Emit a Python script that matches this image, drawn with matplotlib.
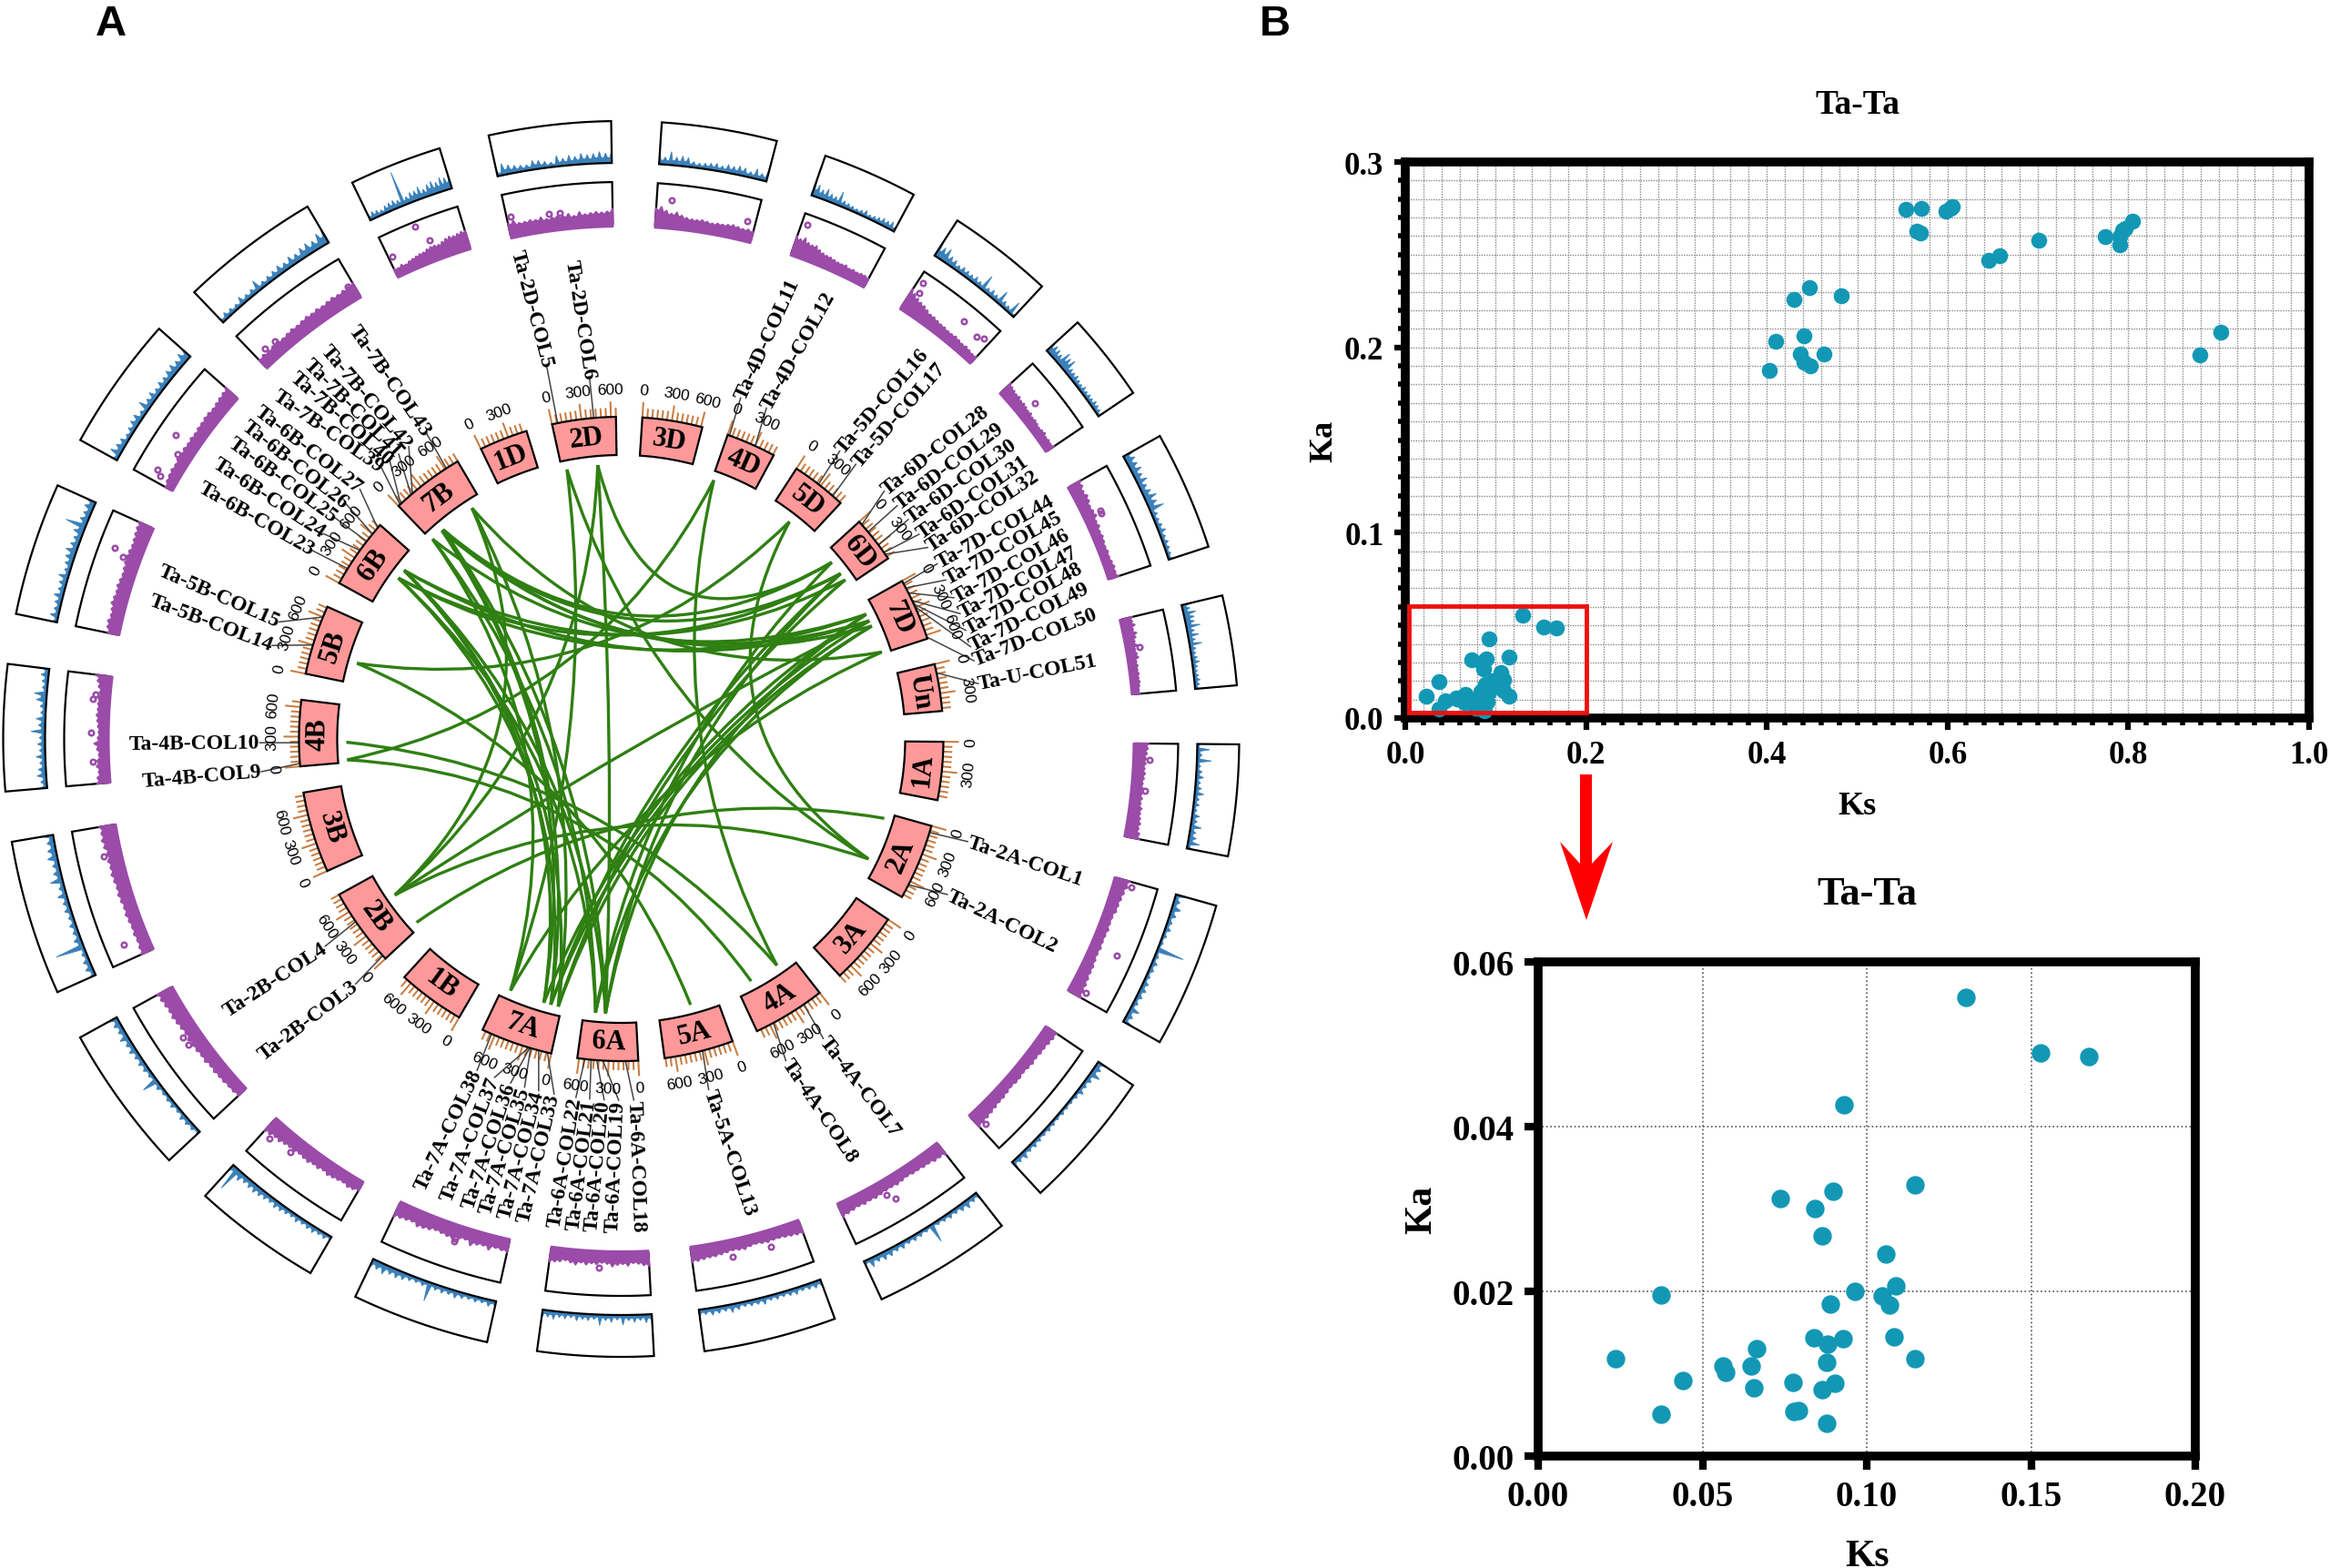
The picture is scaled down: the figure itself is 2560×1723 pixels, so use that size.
import numpy as np
import matplotlib
matplotlib.use('Agg')
import matplotlib.pyplot as plt
from matplotlib.path import Path
from matplotlib.patches import PathPatch, Polygon, Rectangle
from matplotlib.ticker import FormatStrFormatter

# chromosomes and their lengths (Mb), clockwise from 1A
chroms = ['1A', '2A', '3A', '4A', '5A', '6A', '7A', '1B', '2B', '3B', '4B',
          '5B', '6B', '7B', '1D', '2D', '3D', '4D', '5D', '6D', '7D', 'Un']
chrom_len = [594, 780, 750, 744, 709, 618, 736, 689, 801, 830, 674,
             713, 720, 750, 495, 651, 615, 509, 566, 473, 638, 480]

# inner track, % of box height along each chromosome
purple = {
    '1A': [30, 28, 26, 24, 24, 22, 24, 22, 20, 22, 20, 22, 20, 24, 22, 24, 26, 24, 28, 30],
    '2A': [32, 30, 26, 24, 22, 22, 18, 18, 20, 18, 18, 20, 18, 20, 22, 22, 24, 26, 28, 30],
    '3A': [26, 26, 24, 22, 22, 20, 22, 20, 18, 20, 20, 18, 20, 22, 22, 24, 26, 28, 30, 32],
    '4A': [30, 26, 26, 22, 22, 20, 20, 18, 20, 22, 20, 20, 22, 24, 22, 24, 22, 24, 26, 30],
    '5A': [28, 26, 24, 22, 20, 20, 22, 20, 18, 20, 24, 22, 20, 22, 24, 26, 26, 28, 30, 32],
    '6A': [30, 28, 24, 22, 28, 24, 26, 30, 24, 22, 26, 24, 28, 24, 30, 26, 22, 26, 28, 30],
    '7A': [26, 24, 22, 30, 24, 26, 32, 22, 24, 30, 28, 26, 24, 28, 30, 32, 26, 28, 30, 34],
    '1B': [18, 22, 24, 20, 22, 24, 26, 22, 26, 24, 28, 26, 24, 28, 26, 28, 32, 30, 34, 36],
    '2B': [20, 22, 22, 24, 24, 26, 24, 28, 26, 28, 28, 30, 26, 28, 30, 32, 30, 32, 34, 36],
    '3B': [26, 24, 22, 24, 22, 24, 26, 24, 26, 28, 26, 28, 30, 28, 30, 28, 32, 34, 32, 34],
    '4B': [26, 24, 20, 24, 22, 18, 22, 28, 20, 18, 20, 22, 24, 22, 22, 22, 20, 24, 28, 34],
    '5B': [22, 26, 28, 24, 26, 30, 28, 26, 28, 26, 24, 26, 28, 30, 28, 26, 28, 30, 32, 34],
    '6B': [14, 18, 20, 22, 20, 24, 22, 24, 22, 24, 22, 24, 24, 26, 26, 24, 26, 28, 30, 34],
    '7B': [22, 24, 22, 24, 26, 22, 24, 26, 24, 26, 28, 26, 28, 26, 28, 30, 28, 30, 32, 34],
    '1D': [16, 14, 18, 14, 18, 20, 22, 24, 24, 28, 30, 30, 28, 32, 36, 38, 36, 38, 40, 40],
    '2D': [30, 34, 26, 26, 28, 26, 30, 24, 26, 28, 26, 30, 24, 32, 26, 28, 30, 28, 30, 36],
    '3D': [40, 44, 36, 30, 34, 28, 24, 22, 22, 24, 22, 20, 22, 22, 24, 26, 24, 22, 24, 22],
    '4D': [42, 38, 44, 36, 34, 36, 30, 26, 24, 24, 22, 20, 20, 22, 18, 20, 18, 20, 20, 18],
    '5D': [50, 44, 38, 34, 32, 28, 24, 24, 22, 20, 20, 18, 18, 20, 18, 16, 18, 16, 14, 16],
    '6D': [30, 26, 24, 22, 24, 20, 22, 20, 18, 20, 16, 18, 16, 14, 16, 18, 14, 16, 14, 18],
    '7D': [28, 26, 22, 26, 24, 20, 22, 24, 18, 20, 16, 18, 16, 14, 16, 14, 16, 18, 16, 20],
    'Un': [24, 22, 26, 20, 26, 22, 18, 22, 16, 18, 20, 14, 16, 14, 16, 14, 16, 14, 12, 14],
}

# outer track, % of box height
blue = {
    '1A': [8, 30, 12, 35, 10, 14, 18, 12, 15, 22, 12, 14, 10, 18, 14, 26, 15, 18, 28, 12],
    '2A': [28, 15, 22, 16, 12, 14, 10, 8, 66, 10, 14, 12, 10, 14, 16, 14, 12, 24, 16, 26],
    '3A': [24, 18, 26, 14, 12, 16, 10, 8, 8, 10, 8, 10, 12, 10, 12, 14, 12, 18, 14, 22],
    '4A': [18, 14, 20, 16, 12, 14, 12, 10, 46, 10, 12, 14, 12, 16, 14, 18, 20, 16, 22, 12],
    '5A': [18, 16, 14, 12, 16, 14, 12, 14, 12, 18, 14, 14, 12, 16, 20, 14, 16, 18, 14, 22],
    '6A': [16, 20, 14, 18, 14, 24, 12, 18, 14, 26, 12, 16, 14, 18, 12, 16, 14, 20, 16, 22],
    '7A': [14, 16, 12, 14, 12, 14, 18, 14, 16, 14, 46, 14, 12, 14, 18, 20, 18, 24, 20, 26],
    '1B': [10, 14, 12, 16, 14, 12, 16, 12, 14, 16, 18, 14, 16, 18, 20, 18, 16, 22, 60, 20],
    '2B': [10, 12, 14, 16, 10, 14, 12, 10, 14, 40, 12, 14, 16, 14, 18, 16, 22, 16, 18, 26],
    '3B': [14, 18, 16, 12, 70, 18, 14, 16, 12, 16, 14, 22, 14, 30, 18, 16, 24, 20, 18, 30],
    '4B': [20, 14, 22, 18, 14, 22, 14, 18, 14, 34, 16, 22, 12, 14, 24, 30, 12, 14, 18, 16],
    '5B': [12, 20, 14, 16, 22, 16, 18, 24, 14, 18, 22, 26, 20, 18, 24, 50, 20, 18, 22, 24],
    '6B': [14, 26, 20, 18, 12, 16, 20, 22, 14, 28, 18, 22, 16, 20, 18, 22, 24, 20, 26, 30],
    '7B': [12, 16, 14, 12, 20, 14, 16, 28, 14, 16, 18, 22, 18, 24, 20, 26, 28, 24, 34, 42],
    '1D': [14, 18, 16, 12, 18, 20, 22, 18, 85, 18, 24, 24, 30, 20, 28, 32, 26, 34, 30, 36],
    '2D': [12, 28, 22, 18, 16, 14, 22, 20, 16, 12, 26, 18, 24, 20, 26, 22, 24, 28, 24, 32],
    '3D': [24, 18, 32, 20, 24, 22, 14, 12, 14, 16, 18, 14, 20, 18, 22, 20, 14, 24, 16, 30],
    '4D': [50, 30, 22, 28, 20, 18, 34, 16, 14, 12, 10, 12, 16, 10, 12, 14, 18, 16, 20, 14],
    '5D': [50, 30, 34, 22, 20, 14, 18, 16, 14, 18, 14, 40, 14, 18, 14, 34, 16, 12, 34, 8],
    '6D': [34, 26, 24, 20, 36, 30, 34, 18, 16, 18, 14, 12, 16, 12, 14, 12, 16, 14, 12, 8],
    '7D': [32, 24, 22, 26, 20, 26, 18, 22, 30, 24, 36, 14, 12, 14, 18, 12, 14, 12, 10, 12],
    'Un': [26, 18, 30, 24, 22, 34, 18, 26, 16, 30, 14, 12, 14, 18, 12, 10, 12, 14, 12, 10],
}

# purple outlier circles: chromosome, fraction along it, % of box height
dot_chr = ['1A', '1A', '2A', '2A', '2A', '3A', '4A', '4A', '5A', '5A', '7A', '7A', '6A',
           '1B', '1B', '2B', '2B', '3B', '3B', '4B', '4B', '4B', '4B', '5B', '5B',
           '6B', '6B', '6B', '6B', '7B', '7B', '7B', '1D', '1D', '1D', '1D',
           '2D', '2D', '2D', '3D', '3D', '4D', '5D', '5D', '5D', '5D', '5D',
           '6D', '7D', '7D', 'Un']
dot_pos = [.17, .49, .04, .58, .95, .95, .55, .60, .65, .30, .45, .45, .50,
           .92, .70, .62, .55, .12, .78, .78, .82, .47, .20, .72, .67,
           .06, .10, .42, .30, .10, .20, .95, .05, .45, .55, .85,
           .04, .40, .50, .15, .92, .07, .05, .08, .65, .85, .92,
           .40, .35, .37, .40]
dot_val = [32, 27, 38, 62, 34, 36, 48, 30, 34, 34, 33, 28, 34,
           42, 34, 36, 34, 55, 38, 36, 30, 36, 33, 62, 38,
           36, 50, 58, 30, 32, 30, 32, 45, 88, 45, 20,
           45, 35, 35, 62, 42, 75, 75, 50, 60, 52, 60,
           42, 38, 36, 28]

# gene labels: name, chromosome, position (Mb), leader angle in / out
gene_names = ['COL%d' % i for i in range(1, 52)]
gene_chr = ['2A', '2A', '2B', '2B', '2D', '2D', '4A', '4A', '4B', '4B', '4D', '4D',
            '5A', '5B', '5B', '5D', '5D', '6A', '6A', '6A', '6A', '6A',
            '6B', '6B', '6B', '6B', '6B', '6D', '6D', '6D', '6D', '6D',
            '7A', '7A', '7A', '7A', '7A', '7A', '7B', '7B', '7B', '7B', '7B',
            '7D', '7D', '7D', '7D', '7D', '7D', '7D', 'Un']
gene_pos = [70, 640, 40, 480, 57, 426, 199, 557, 30, 239, 20, 300,
            318, 300, 600, 273, 460, 130, 358, 420, 477, 540,
            170, 392, 506, 600, 680, 40, 136, 306, 398, 420,
            40, 131, 216, 225, 235, 636, 20, 30, 170, 188, 615,
            30, 80, 136, 222, 260, 290, 620, 90]
label_in = [16.5, 25.5, 137.3, 145, 258.7, 265, 56, 62.9, 174.8, 179.4, 289.3, 293.7,
            76, 195, 198.9, 307.2, 310.5, 88, 90.4, 92.7, 95, 97.2,
            211.4, 214.6, 217.7, 220.5, 223.7, 316.7, 319.8, 322.6, 325.5, 328,
            100.7, 103.2, 105.5, 107.8, 110.5, 113.5, 228.5, 230.2, 232, 234, 237.5,
            331, 333.9, 337, 339.7, 342.5, 345.2, 347.5, 351.2]
label_out = [17, 25.6, 138.6, 145.4, 257.9, 264.1, 55.2, 61.3, 174.9, 179.4, 290.5, 295,
             75, 196.3, 200, 308, 310.6, 88, 90.9, 93.3, 95.5, 97.7,
             211, 214.3, 217.4, 220, 222.3, 317.8, 320.5, 323, 325.4, 327.6,
             101.3, 103.6, 105.9, 108, 110.7, 114, 225.3, 228.2, 230.4, 233, 237,
             331, 333.2, 335.5, 337.8, 339.9, 342.4, 345.5, 350.6]
label_extra = {'COL5': 20}

# collinear pairs drawn as ribbons
link_a_chr = ['2A', '2A', '2A', '2B', '2D', '2D', '2D', '2B', '2A', '2B',
              '4B', '4B', '4B', '4A', '5A', '5B',
              '6A', '6A', '6A', '6A', '6B', '6B', '6A', '6A',
              '7A', '7A', '7A', '7A', '7A', '7A', '7A', '7A', '7B', '7B', '7B', '7B',
              '7A', '7A', '7A', '7A', '7A', '7D', '7D', '7B', '7B', '6B', '6B']
link_a_pos = [65, 582, 582, 477, 57, 426, 426, 477, 582, 477,
              239, 30, 30, 199, 318, 245,
              477, 358, 477, 358, 392, 506, 477, 358,
              636, 216, 131, 40, 636, 216, 131, 40, 20, 170, 188, 615,
              216, 131, 40, 40, 131, 136, 290, 170, 188, 506, 392]
link_b_chr = ['2B', '2B', '2D', '2D', '7A', '6A', '6D', '7D', '5D', '7B',
              '4A', '4A', '4D', '4D', '5B', '5D',
              '6B', '6B', '6D', '6D', '6D', '6D', '7B', '7B',
              '7B', '7B', '7B', '7B', '7D', '7D', '7D', '7D', '7D', '7D', '7D', '7D',
              '6B', '6B', '6B', '6D', '6D', '6A', '6A', '6D', '6D', '7D', '7D']
link_b_pos = [63, 477, 57, 426, 636, 358, 136, 222, 273, 615,
              199, 557, 23, 23, 245, 273,
              392, 506, 136, 306, 306, 398, 20, 188,
              20, 170, 188, 615, 620, 136, 222, 290, 136, 222, 290, 620,
              506, 392, 506, 398, 306, 358, 477, 306, 136, 222, 136]

# Ks / Ka values
ks_high = [.403, .4097, .4297, .4469, .4828, .4414, .4372, .4407, .4483, .4628,
           .5538, .5710, .5655, .5697, .5986, .6028, .6055, .6455, .6572, .7007,
           .7745, .7910, .7903, .7938, .7966, .8048, .8793, .9028]
ka_high = [.1876, .2032, .2257, .2323, .2279, .2060, .1966, .1920, .1898, .1966,
           .2744, .2750, .2628, .2617, .2737, .2752, .2759, .2468, .2494, .2579,
           .2599, .2551, .2595, .2634, .2643, .2680, .1960, .2080]
ks_low = [.0235, .0375, .0375, .0440, .0561, .0572, .0649, .0657, .0666, .0736, .0776,
          .0779, .0793, .0838, .0843, .0865, .0865, .0879, .0879, .0881, .0890, .0897,
          .0903, .0929, .0930, .0964, .1046, .1059, .1070, .1084, .1088, .1148, .1148,
          .1301, .1530, .1676]
ka_low = [.0118, .0196, .0051, .0092, .0109, .0102, .0109, .0083, .0130, .0313, .0090,
          .0054, .0055, .0144, .0301, .0267, .0081, .0114, .0040, .0136, .0184, .0321,
          .0088, .0143, .0427, .0200, .0194, .0245, .0183, .0145, .0207, .0118, .0329,
          .0557, .0489, .0485]

SERIF = 'Liberation Serif'
SANS = 'Liberation Sans'
PURPLE = '#9a4ca8'
BLUE = '#3a80ba'
PINK = '#ff9999'
TICK = '#c97f45'
GREEN = '#2f7f12'
TEAL = '#1298b5'

W, H = 2560, 1724
CX, CY = 682.5, 813
DEG_PER_MB = 0.0176
GAP = 4.7

# sector start angles, clockwise from east
starts = {}
a = 0.5
for c, n in zip(chroms, chrom_len):
    starts[c] = a
    a += n * DEG_PER_MB + GAP
lengths = dict(zip(chroms, chrom_len))


def pol(r, deg):
    t = np.radians(deg)
    return CX + r * np.cos(t), CY + r * np.sin(t)


def ang(c, pos):
    return starts[c] + pos * DEG_PER_MB


def band(r0, r1, a0, a1):
    t = np.linspace(a0, a1, 30)
    x0, y0 = pol(r0, t)
    x1, y1 = pol(r1, t[::-1])
    return np.column_stack([np.r_[x0, x1], np.r_[y0, y1]])


def teeth(vals, a0, a1, track, base_off, floor_frac, w_frac):
    # comb outline: one narrow peak per value over a lower floor
    vals = np.asarray(vals, dtype=float)
    t = np.linspace(a0, a1, len(vals))
    w = (t[1] - t[0]) * w_frac
    ts, vs = [], []
    for i, v in enumerate(vals):
        left = floor_frac * min(v, vals[max(i - 1, 0)])
        right = floor_frac * min(v, vals[min(i + 1, len(vals) - 1)])
        ts += [t[i] - w, t[i], t[i] + w]
        vs += [left, v, right]
    ts = np.clip(ts, a0, a1)
    r = track[0] + np.array(vs) / 100 * (track[1] - track[0])
    xt, yt = pol(r, ts)
    tb = np.linspace(a1, a0, 20)
    xb, yb = pol(track[0] - base_off, tb)
    return np.column_stack([np.r_[xt, xb], np.r_[yt, yb]])


def text_rot(deg):
    # sector names and tick labels follow the rim
    deg = deg % 360
    return 90 - deg if deg <= 180 else 270 - deg


fig = plt.figure(figsize=(W / 100, H / 100), dpi=100)
ax = fig.add_axes([0, 0, 1, 1])
ax.set_xlim(0, W)
ax.set_ylim(H, 0)
ax.axis('off')

R_IN, R_OUT = 312, 354
R_LINK = 302
TRACK_P = (566, 612)
TRACK_B = (633, 679)
R_LABEL = 397

# tracks and sectors
for c in chroms:
    a0, a1 = ang(c, 0), ang(c, lengths[c])
    mid = (a0 + a1) / 2

    ax.add_patch(Polygon(teeth(purple[c], a0, a1, TRACK_P, 3, 0.85, 0.4), fc=PURPLE, ec=PURPLE,
                         lw=1.5, joinstyle='round', zorder=3))
    ax.add_patch(Polygon(band(TRACK_P[0], TRACK_P[1], a0, a1), fc='none', ec='black', lw=1.6, zorder=2))

    ax.add_patch(Polygon(teeth(blue[c], a0, a1, TRACK_B, 0, 0.55, 0.3), fc=BLUE, ec=BLUE,
                         lw=0.6, zorder=3))
    ax.add_patch(Polygon(band(TRACK_B[0], TRACK_B[1], a0, a1), fc='none', ec='black', lw=1.6, zorder=4))

    ax.add_patch(Polygon(band(R_IN, R_OUT, a0, a1), fc=PINK, ec='black', lw=1.6, zorder=5))
    ax.text(*pol((R_IN + R_OUT) / 2, mid), c, rotation=text_rot(mid), ha='center', va='center',
            family=SERIF, weight='bold', fontsize=22, rotation_mode='anchor', zorder=6)

    for pos in range(0, lengths[c] + 1, 50):
        major = pos % 300 == 0
        th = ang(c, pos)
        x, y = pol(np.array([R_OUT, R_OUT + (17 if major else 10)]), th)
        ax.plot(x, y, color=TICK, lw=1.5, zorder=4, solid_capstyle='butt')
        if major:
            ax.text(*pol(R_OUT + 30, th), str(pos), rotation=text_rot(th), ha='center', va='center',
                    family=SANS, fontsize=12.5, rotation_mode='anchor', zorder=7)

# outlier circles on the purple track
for c, f, v in zip(dot_chr, dot_pos, dot_val):
    x, y = pol(TRACK_P[0] + v / 100 * (TRACK_P[1] - TRACK_P[0]), ang(c, f * lengths[c]))
    ax.plot(x, y, 'o', ms=4, mfc='none', mec=PURPLE, mew=1.8, zorder=3)

# gene labels with leaders
for n, c, p, i, o in zip(gene_names, gene_chr, gene_pos, label_in, label_out):
    name = 'Ta-%s-%s' % ('U' if c == 'Un' else c, n)
    r0 = R_LABEL + label_extra.get(n, 0)
    x0, y0 = pol(R_OUT, ang(c, p))
    x1, y1 = pol(r0, i)
    ax.plot([x0, x1], [y0, y1], color='#444444', lw=1.1, zorder=4)
    x2, y2 = pol(r0 + 120, o)
    dx, dy = x2 - x1, y2 - y1
    if dx >= 0:
        rot, ha = -np.degrees(np.arctan2(dy, dx)), 'left'
    else:
        rot, ha = -np.degrees(np.arctan2(-dy, -dx)), 'right'
    ax.text(x1, y1, name, rotation=rot, ha=ha, va='center', rotation_mode='anchor',
            family=SERIF, weight='bold', fontsize=17, zorder=8)

# ribbons
for ca, pa, cb, pb in zip(link_a_chr, link_a_pos, link_b_chr, link_b_pos):
    ta, tb = ang(ca, pa), ang(cb, pb)
    sep = abs(ta - tb) % 360
    sep = min(sep, 360 - sep)
    k = 0.2 * (180 - sep) / 90
    ua = np.array([np.cos(np.radians(ta)), np.sin(np.radians(ta))])
    ub = np.array([np.cos(np.radians(tb)), np.sin(np.radians(tb))])
    u = (ua + ub) / max(np.linalg.norm(ua + ub), 1e-6)
    ctrl = (CX + k * R_LINK * u[0], CY + k * R_LINK * u[1])
    path = Path([pol(R_LINK, ta), ctrl, pol(R_LINK, tb)], [Path.MOVETO, Path.CURVE3, Path.CURVE3])
    ax.add_patch(PathPatch(path, fc='none', ec=GREEN, lw=2.4, zorder=2))

# red arrow between the scatter plots
arrow = [(1736, 852), (1749, 852), (1749, 950), (1772, 926), (1743, 1012), (1714, 926), (1736, 950)]
ax.add_patch(Polygon(arrow, fc='#ff0000', ec='none', zorder=5))

ax.text(122, 27, 'A', family=SANS, weight='bold', fontsize=34, ha='center', va='center')
ax.text(1401, 27, 'B', family=SANS, weight='bold', fontsize=34, ha='center', va='center')


def px_axes(x0, y0, x1, y1):
    return fig.add_axes([x0 / W, 1 - y1 / H, (x1 - x0) / W, (y1 - y0) / H])


def style(a, size):
    for s in a.spines.values():
        s.set_linewidth(7)
    for t in a.get_xticklabels() + a.get_yticklabels():
        t.set_family(SERIF)
        t.set_weight('bold')
        t.set_fontsize(size)


# whole range
a1 = px_axes(1544, 179, 2537, 790)
a1.scatter(ks_high + ks_low, ka_high + ka_low, s=160, color=TEAL, linewidths=0, zorder=3, clip_on=False)
a1.set_xlim(0, 1)
a1.set_ylim(0, .3)
a1.set_xticks(np.arange(0, 1.01, .2))
a1.set_yticks(np.arange(0, .31, .1))
a1.set_xticks(np.arange(0, 1.001, .02), minor=True)
a1.set_yticks(np.arange(0, .301, .01), minor=True)
a1.grid(which='both', color='#888888', ls=(0, (1, 1)), lw=1.0, zorder=0)
a1.set_axisbelow(True)
a1.tick_params(which='major', length=9, width=4.5, pad=8)
a1.tick_params(which='minor', length=6, width=4)
style(a1, 25)
a1.add_patch(Rectangle((.004, .003), .196, .0575, fc='none', ec='#ee1111', lw=3.5, zorder=4))
a1.set_title('Ta-Ta', family=SERIF, weight='bold', fontsize=27, pad=39)
a1.set_xlabel('Ks', family=SERIF, weight='bold', fontsize=26, labelpad=17)
a1.set_ylabel('Ka', family=SERIF, weight='bold', fontsize=26, labelpad=4)

# close-up of the low range
a2 = px_axes(1690, 1058, 2412, 1601)
a2.scatter(ks_low, ka_low, s=215, color=TEAL, linewidths=0, zorder=3)
a2.set_xlim(0, .2)
a2.set_ylim(0, .06)
a2.set_xticks(np.arange(0, .201, .05))
a2.set_yticks(np.arange(0, .061, .02))
a2.xaxis.set_major_formatter(FormatStrFormatter('%.2f'))
a2.yaxis.set_major_formatter(FormatStrFormatter('%.2f'))
a2.grid(color='#555555', ls=':', lw=1.2, zorder=0)
a2.set_axisbelow(True)
a2.tick_params(which='major', length=11, width=6, pad=8)
style(a2, 28)
a2.set_title('Ta-Ta', family=SERIF, weight='bold', fontsize=32, pad=46)
a2.set_xlabel('Ks', family=SERIF, weight='bold', fontsize=30, labelpad=20)
a2.set_ylabel('Ka', family=SERIF, weight='bold', fontsize=30, labelpad=10)

fig.savefig('out.png', dpi=100)
